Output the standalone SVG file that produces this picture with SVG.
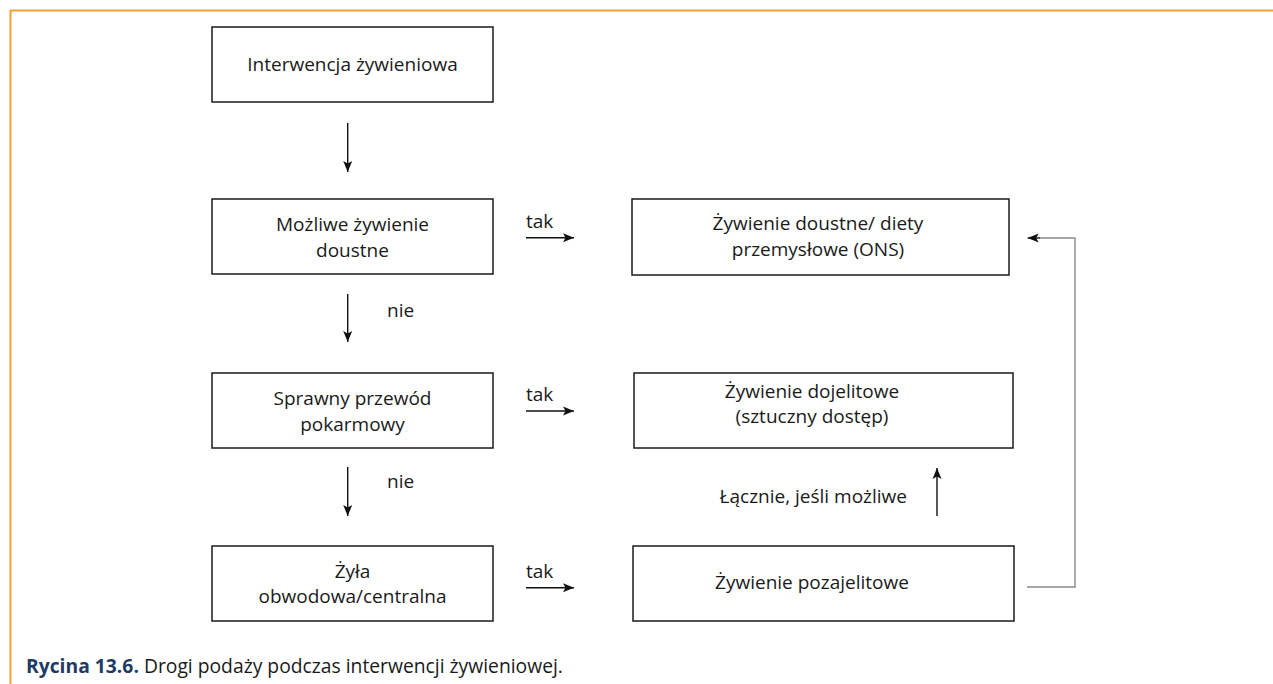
<svg xmlns="http://www.w3.org/2000/svg" width="1273" height="684" viewBox="0 0 1273 684">
<style>
.box{fill:#fff;stroke:#1a1a1a;stroke-width:1.5}
.t{font-family:"Open Sans","Noto Sans",sans-serif;font-size:19px;fill:#1a1a1a}
.c{text-anchor:middle}
.ln{stroke:#111;stroke-width:1.4;fill:none}
.gr{stroke:#8a8a8a;stroke-width:1.4;fill:none}
</style>
<defs>
<marker id="ah" markerUnits="userSpaceOnUse" markerWidth="14" markerHeight="12" refX="11" refY="5" orient="auto">
<path d="M0,0.5 L11,5 L0,9.5 L2.5,5 Z" fill="#111"/>
</marker>
</defs>
<rect width="1273" height="684" fill="#fff"/>
<path d="M10.5,684 V10.5 H1273" fill="none" stroke="#f0a035" stroke-width="2"/>

<g id="n1"><rect class="box" x="212" y="27" width="281" height="75"/><text class="t c" x="352.5" y="71">Interwencja żywieniowa</text></g>
<g id="n2"><rect class="box" x="212" y="199" width="281" height="75"/><text class="t c" x="352.5" y="230.5">Możliwe żywienie</text><text class="t c" x="352.5" y="256.5">doustne</text></g>
<g id="n3"><rect class="box" x="212" y="373" width="281" height="75"/><text class="t c" x="352.5" y="404.5">Sprawny przewód</text><text class="t c" x="352.5" y="430.5">pokarmowy</text></g>
<g id="n4"><rect class="box" x="212" y="546" width="281" height="75"/><text class="t c" x="352.5" y="577.5">Żyła</text><text class="t c" x="352.5" y="603">obwodowa/centralna</text></g>
<g id="n5"><rect class="box" x="632" y="199" width="377" height="76"/><text class="t c" x="818" y="230">Żywienie doustne/ diety</text><text class="t c" x="818" y="255.5">przemysłowe (ONS)</text></g>
<g id="n6"><rect class="box" x="634" y="373" width="379" height="75"/><text class="t c" x="812" y="398">Żywienie dojelitowe</text><text class="t c" x="812" y="422.5">(sztuczny dostęp)</text></g>
<g id="n7"><rect class="box" x="633" y="546" width="381" height="75"/><text class="t c" x="812" y="589">Żywienie pozajelitowe</text></g>

<g id="connectors">
<line class="ln" x1="347.7" y1="123" x2="347.7" y2="172" marker-end="url(#ah)"/>
<line class="ln" x1="347.7" y1="294" x2="347.7" y2="342" marker-end="url(#ah)"/>
<line class="ln" x1="347.7" y1="467" x2="347.7" y2="516" marker-end="url(#ah)"/>
<line class="ln" x1="526" y1="237.7" x2="574" y2="237.7" marker-end="url(#ah)"/>
<line class="ln" x1="526" y1="411" x2="574" y2="411" marker-end="url(#ah)"/>
<line class="ln" x1="526" y1="587.7" x2="574" y2="587.7" marker-end="url(#ah)"/>
<line class="ln" x1="937" y1="516" x2="937" y2="468" stroke="#333" marker-end="url(#ah)"/>
<path class="gr" d="M1027,587 H1075 V238 H1040"/>
<line class="ln" x1="1040" y1="238" x2="1027.7" y2="238" marker-end="url(#ah)"/>
<text class="t" x="526" y="228">tak</text>
<text class="t" x="526" y="401">tak</text>
<text class="t" x="526" y="578">tak</text>
<text class="t" x="387" y="317">nie</text>
<text class="t" x="387" y="488">nie</text>
<text class="t" x="907" y="503" text-anchor="end">Łącznie, jeśli możliwe</text>
</g>

<text font-family="'Open Sans','Noto Sans',sans-serif" font-size="19.3" x="26" y="673" fill="#1a1a1a"><tspan font-weight="bold" fill="#1f3b63">Rycina 13.6.</tspan> Drogi podaży podczas interwencji żywieniowej.</text>
</svg>
